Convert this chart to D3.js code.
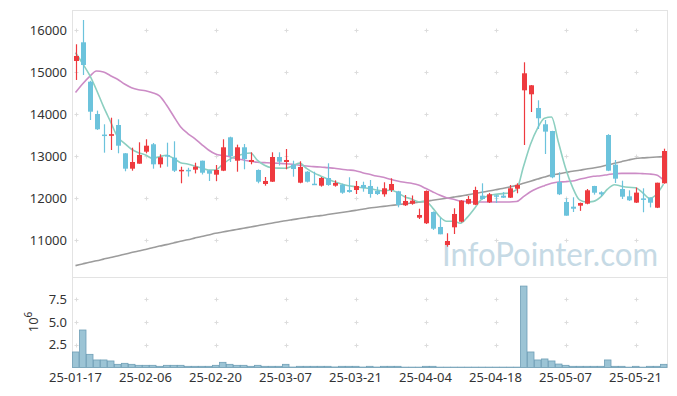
<!DOCTYPE html>
<html>
<head>
<meta charset="utf-8">
<style>
  body { margin: 0; background: #fff; }
  svg { display: block; font-family: 'Noto Sans', sans-serif; }
</style>
</head>
<body>
<svg width="677" height="396"></svg>
<script src="https://cdn.jsdelivr.net/npm/d3@7/dist/d3.min.js"></script>
<script>
// trading days (KRX calendar, holidays skipped)
const dates = [
  '25-01-17', '25-01-20', '25-01-21', '25-01-22', '25-01-23', '25-01-24', '25-01-31',
  '25-02-03', '25-02-04', '25-02-05', '25-02-06', '25-02-07', '25-02-10', '25-02-11', '25-02-12', '25-02-13', '25-02-14',
  '25-02-17', '25-02-18', '25-02-19', '25-02-20', '25-02-21', '25-02-24', '25-02-25', '25-02-26', '25-02-27', '25-02-28',
  '25-03-04', '25-03-05', '25-03-06', '25-03-07', '25-03-10', '25-03-11', '25-03-12', '25-03-13', '25-03-14',
  '25-03-17', '25-03-18', '25-03-19', '25-03-20', '25-03-21', '25-03-24', '25-03-25', '25-03-26', '25-03-27', '25-03-28', '25-03-31',
  '25-04-01', '25-04-02', '25-04-03', '25-04-04', '25-04-07', '25-04-08', '25-04-09', '25-04-10', '25-04-11',
  '25-04-14', '25-04-15', '25-04-16', '25-04-17', '25-04-18', '25-04-21', '25-04-22', '25-04-23', '25-04-24', '25-04-25',
  '25-04-28', '25-04-29', '25-04-30', '25-05-02', '25-05-07', '25-05-08', '25-05-09',
  '25-05-12', '25-05-13', '25-05-14', '25-05-15', '25-05-16', '25-05-19', '25-05-20', '25-05-21', '25-05-22', '25-05-23',
  '25-05-26', '25-05-27'
];

const xTicks = ['25-01-17', '25-02-06', '25-02-20', '25-03-07', '25-03-21', '25-04-04', '25-04-18', '25-05-07', '25-05-21'];
const priceTicks = [11000, 12000, 13000, 14000, 15000, 16000];
const volumeTicks = [2.5, 5.0, 7.5];

const openPrices = [
  15262, 15707, 14769, 14000, 13510, 13480, 13738, 13064, 12698, 12817,
  13102, 13279, 12802, 13020, 12960, 12650, 12670, 12674, 12888, 12660,
  12555, 12650, 13445, 12888, 13207, 12857, 12667, 12333, 12388, 12976,
  12857, 12793, 12364, 12626, 12340, 12293, 12476, 12293, 12317, 12190,
  12190, 12310, 12286, 12167, 12088, 12190, 12160, 11826, 11864, 11531,
  11398, 11667, 11310, 10881, 11302, 11436, 11864, 11840, 12055, 11898,
  12065, 12055, 12007, 12221, 14564, 14469, 14143, 13755, 13595, 12381,
  11905, 11793, 11817, 11864, 12286, 12136, 13500, 12793, 12214, 12040,
  11890, 11990, 12007, 11769, 12350
];
const highPrices = [
  15660, 16238, 14790, 14080, 13755, 13912, 13874, 13070, 13198, 13326,
  13398, 13310, 13040, 13317, 13350, 12745, 12720, 12840, 12890, 12670,
  12786, 13398, 13460, 13270, 13286, 13088, 12680, 12500, 13088, 13088,
  13167, 12888, 12874, 12640, 12626, 12500, 12826, 12420, 12340, 12493,
  12405, 12388, 12428, 12269, 12374, 12469, 12170, 12071, 12060, 11745,
  12180, 11680, 11526, 11160, 11755, 11950, 12048, 12269, 12350, 12120,
  12075, 12140, 12310, 12350, 15231, 14690, 14326, 13857, 13600, 12612,
  11993, 12017, 11890, 12214, 12290, 12160, 13520, 12905, 12412, 12183,
  12250, 12231, 12010, 12364, 13174
];
const lowPrices = [
  14810, 14929, 13857, 13620, 13079, 13143, 13064, 12636, 12650, 12817,
  13064, 12698, 12721, 12745, 12619, 12350, 12510, 12585, 12560, 12405,
  12400, 12640, 12857, 12626, 12683, 12802, 12350, 12293, 12380, 12774,
  12683, 12507, 12350, 12370, 12310, 12270, 12290, 12270, 12100, 12126,
  12095, 12150, 12007, 12070, 12031, 12143, 11778, 11810, 11840, 11500,
  11380, 11240, 11136, 10840, 11143, 11420, 11850, 11830, 11960, 11880,
  11880, 12000, 12000, 12112, 13262, 14048, 13643, 13048, 12470, 12070,
  11579, 11667, 11693, 11850, 12080, 12040, 12640, 12357, 11976, 11930,
  11880, 11660, 11776, 11760, 12340
];
const closePrices = [
  15381, 15167, 14055, 13636, 13490, 13520, 13245, 12698, 12857, 13024,
  13245, 12802, 12969, 13000, 12650, 12670, 12650, 12745, 12602, 12579,
  12667, 13207, 13000, 13207, 12929, 12905, 12388, 12405, 12976, 12864,
  12905, 12690, 12738, 12388, 12333, 12476, 12310, 12357, 12126, 12143,
  12286, 12238, 12095, 12095, 12231, 12333, 11833, 11929, 11936, 11595,
  12167, 11269, 11136, 10976, 11619, 11936, 11976, 12190, 11976, 12088,
  12033, 12007, 12231, 12310, 14969, 14683, 13898, 13580, 12493, 12088,
  11579, 11745, 11881, 12183, 12126, 12088, 12650, 12460, 12031, 11945,
  12128, 11983, 11888, 12364, 13119
];

// volume in millions of shares
const volumes = [
  1.71, 4.13, 1.45, 0.83, 0.83, 0.72, 0.35, 0.46, 0.35, 0.24,
  0.24, 0.24, 0.13, 0.24, 0.24, 0.24, 0.13, 0.13, 0.13, 0.13,
  0.24, 0.57, 0.35, 0.24, 0.24, 0.13, 0.24, 0.13, 0.13, 0.13,
  0.35, 0.05, 0.13, 0.13, 0.13, 0.13, 0.13, 0.06, 0.13, 0.13,
  0.13, 0.05, 0.13, 0.05, 0.13, 0.13, 0.13, 0.04, 0.04, 0.04,
  0.13, 0.13, 0.04, 0.04, 0.04, 0.04, 0.04, 0.04, 0.04, 0.04,
  0.04, 0.04, 0.04, 0.04, 8.97, 1.71, 0.83, 0.94, 0.72, 0.38,
  0.24, 0.13, 0.13, 0.13, 0.13, 0.13, 0.83, 0.13, 0.13, 0.04,
  0.13, 0.04, 0.13, 0.13, 0.35
];

// moving averages
const ma5 = [
  15460, 15207, 14929, 14571, 14174, 13817, 13460, 13302, 13160, 13079,
  13024, 12945, 12984, 13017, 12945, 12841, 12810, 12762, 12714, 12667,
  12667, 12800, 12920, 13000, 13048, 13070, 12895, 12780, 12722, 12710,
  12707, 12762, 12830, 12707, 12603, 12524, 12452, 12388, 12333, 12293,
  12269, 12245, 12225, 12190, 12167, 12190, 12127, 12031, 11976, 11912,
  11920, 11765, 11560, 11445, 11445, 11400, 11545, 11750, 11970, 12055,
  12088, 12105, 12127, 12200, 12750, 13280, 13660, 13900, 13929, 13320,
  12715, 12260, 11955, 11905, 11920, 12020, 12210, 12315, 12280, 12255,
  12245, 12130, 11993, 12090, 12330
];
const ma20 = [
  14510, 14714, 14889, 15024, 15000, 14912, 14826, 14714, 14627, 14579,
  14555, 14507, 14429, 14214, 13952, 13698, 13540, 13421, 13279, 13143,
  13048, 13010, 12984, 12936, 12905, 12874, 12850, 12841, 12833, 12826,
  12817, 12802, 12778, 12762, 12746, 12738, 12722, 12707, 12683, 12667,
  12650, 12603, 12564, 12524, 12493, 12445, 12405, 12374, 12350, 12310,
  12231, 12150, 12071, 12007, 11969, 11929, 11912, 11905, 11905, 11905,
  11905, 11905, 11905, 11915, 12031, 12150, 12230, 12293, 12350, 12381,
  12388, 12405, 12445, 12484, 12516, 12531, 12555, 12579, 12587, 12587,
  12587, 12579, 12571, 12548, 12429
];
const ma60 = [
  10390, 10430, 10470, 10505, 10545, 10585, 10620, 10660, 10700, 10740,
  10775, 10815, 10855, 10890, 10930, 10970, 11005, 11045, 11085, 11120,
  11160, 11190, 11220, 11250, 11280, 11310, 11340, 11370, 11400, 11430,
  11460, 11485, 11510, 11535, 11560, 11580, 11605, 11630, 11655, 11680,
  11705, 11730, 11760, 11780, 11800, 11820, 11840, 11860, 11880, 11900,
  11920, 11945, 11970, 11995, 12020, 12045, 12075, 12105, 12135, 12165,
  12195, 12225, 12260, 12300, 12350, 12400, 12450, 12500, 12545, 12575,
  12605, 12635, 12660, 12690, 12715, 12745, 12785, 12825, 12865, 12905,
  12940, 12955, 12965, 12975, 12985
];

var svg = d3.select('svg');
var frame = { left: 72, right: 667, top: 10, mid: 278, bottom: 367.5 };

var x = d3.scaleBand().domain(dates).range([frame.left, frame.right]);
var cx = function(d) {
  return x(d) + x.bandwidth() / 2;
};
var y = d3.scaleLinear().domain([10095, 16476]).range([frame.mid, frame.top]);
var yVol = d3.scaleLinear().domain([0, 9.86]).range([frame.bottom, frame.mid]);

var candles = dates.map(function(d, i) {
  return { date: d, open: openPrices[i], high: highPrices[i], low: lowPrices[i], close: closePrices[i], volume: volumes[i] };
});

// panel frames
svg.append('rect')
  .attr('x', frame.left + 0.5).attr('y', frame.top + 0.5)
  .attr('width', frame.right - frame.left).attr('height', frame.bottom - frame.top - 0.5)
  .attr('fill', 'none').attr('stroke', '#e3e3e3');
svg.append('line')
  .attr('x1', frame.left).attr('x2', frame.right + 0.5)
  .attr('y1', frame.mid - 0.5).attr('y2', frame.mid - 0.5)
  .attr('stroke', '#e3e3e3');

// grid is drawn as little "+" marks at the tick crossings
var crosses = [];
xTicks.forEach(function(t) {
  priceTicks.forEach(function(p) { crosses.push([cx(t), y(p)]); });
  volumeTicks.forEach(function(v) { crosses.push([cx(t), yVol(v)]); });
});
svg.append('g').selectAll('path').data(crosses).join('path')
  .attr('d', function(d) {
    var px = Math.round(d[0]) + 0.5, py = Math.round(d[1]) + 0.5;
    return 'M' + (px - 2) + ',' + py + 'H' + (px + 2) + 'M' + px + ',' + (py - 2) + 'V' + (py + 2);
  })
  .attr('stroke', '#dcdcdc').attr('stroke-width', 1);

// watermark
svg.append('text')
  .attr('x', 442).attr('y', 266)
  .attr('textLength', 216).attr('lengthAdjust', 'spacingAndGlyphs')
  .attr('font-family', 'Lato, sans-serif')
  .attr('font-size', 32).attr('fill', '#c6dae5')
  .text('InfoPointer.com');

// moving averages
var maLine = function(values) {
  return d3.line()
    .x(function(d, i) { return cx(dates[i]); })
    .y(function(d) { return y(d); })
    .curve(d3.curveMonotoneX)(values);
};
[[ma60, '#9c9c9c'], [ma20, '#cc8cc6'], [ma5, '#8ccfc0']].forEach(function(m) {
  svg.append('path').attr('d', maLine(m[0]))
    .attr('fill', 'none').attr('stroke', m[1]).attr('stroke-width', 1.6);
});

// candles: red up, blue down (korean convention)
var color = function(d) {
  return d.close >= d.open ? '#ee3a3f' : '#6cc3dc';
};
var candle = svg.append('g').selectAll('g').data(candles).join('g');
candle.append('line')
  .attr('x1', function(d) { return Math.round(cx(d.date)) + 0.5; })
  .attr('x2', function(d) { return Math.round(cx(d.date)) + 0.5; })
  .attr('y1', function(d) { return y(d.high); })
  .attr('y2', function(d) { return y(d.low); })
  .attr('stroke', color).attr('stroke-width', 1.2);
candle.append('rect')
  .attr('x', function(d) { return Math.round(cx(d.date)) - 2; })
  .attr('width', 5)
  .attr('y', function(d) { return y(Math.max(d.open, d.close)); })
  .attr('height', function(d) { return Math.max(1.5, Math.abs(y(d.open) - y(d.close))); })
  .attr('fill', color);

// volume bars
svg.append('g').selectAll('rect').data(candles).join('rect')
  .attr('x', function(d) { return x(d.date) + 0.5; })
  .attr('width', x.bandwidth() - 0.5)
  .attr('y', function(d) { return yVol(d.volume); })
  .attr('height', function(d) { return frame.bottom - yVol(d.volume); })
  .attr('fill', '#9cc4d5').attr('stroke', '#6f9fb6').attr('stroke-width', 0.8);

// axes
var styleAxis = function(g) {
  g.select('.domain').remove();
  g.selectAll('text').attr('fill', '#333').attr('font-size', 13).attr('font-family', "'Noto Sans', sans-serif");
};
svg.append('g').attr('transform', 'translate(' + frame.left + ',0)')
  .call(d3.axisLeft(y).tickValues(priceTicks).tickSize(0).tickPadding(5).tickFormat(d3.format('d')))
  .call(styleAxis);
svg.append('g').attr('transform', 'translate(' + frame.left + ',0)')
  .call(d3.axisLeft(yVol).tickValues(volumeTicks).tickSize(0).tickPadding(5).tickFormat(d3.format('.1f')))
  .call(styleAxis);
svg.append('g').attr('transform', 'translate(0,' + frame.bottom + ')')
  .call(d3.axisBottom(x).tickValues(xTicks).tickSize(0).tickPadding(5))
  .call(styleAxis);

// volume unit label
var unit = svg.append('text')
  .attr('transform', 'translate(38,322) rotate(-90)')
  .attr('text-anchor', 'middle').attr('font-size', 13).attr('fill', '#333');
unit.append('tspan').text('10');
unit.append('tspan').attr('dy', -6).attr('font-size', 10).text('6');
</script>
</body>
</html>
